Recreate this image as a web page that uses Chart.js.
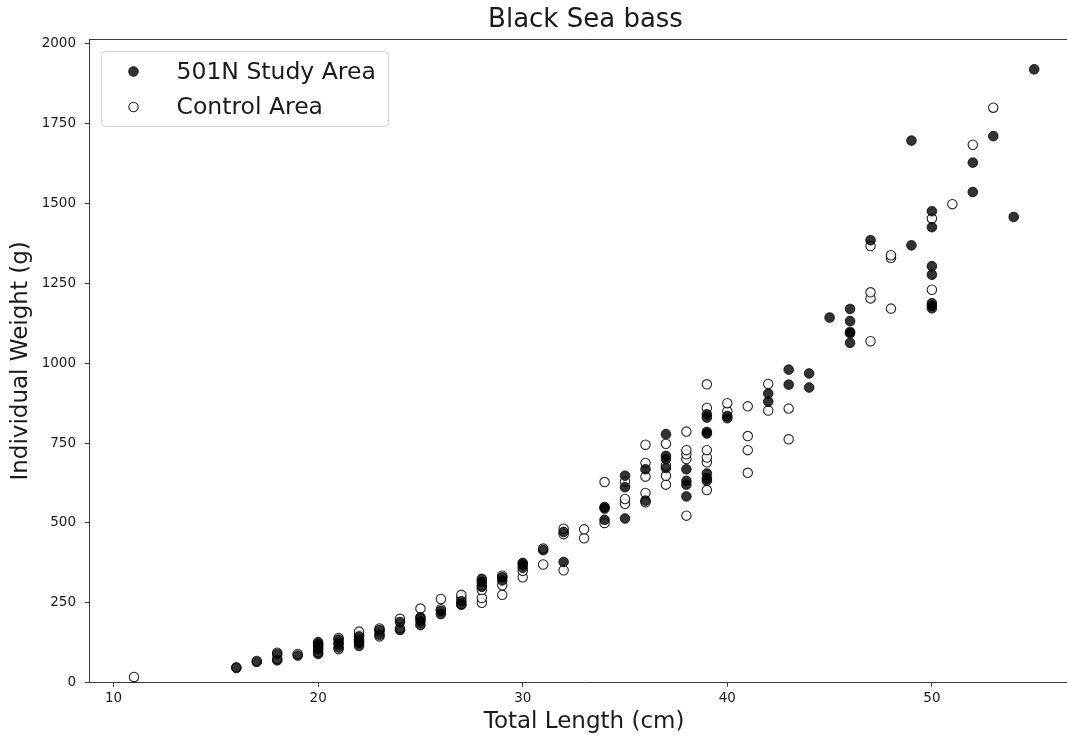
<!DOCTYPE html>
<html>
<head>
<meta charset="utf-8">
<script src="https://cdn.jsdelivr.net/npm/chart.js@4.4.0/dist/chart.umd.min.js"></script>
<style>
  html, body { margin: 0; padding: 0; background: #fff; overflow: hidden; }
  #wrap { width: 1085px; height: 738px; }
</style>
</head>
<body>
<div id="wrap"><canvas id="chart" width="1085" height="738"></canvas></div>
<script>
// Black Sea bass length/weight samples
const studyLength = [
  16, 17, 18, 18, 19, 20, 20, 20, 20, 21, 21, 21, 22, 22, 22, 22, 23, 23,
  24, 24, 25, 25, 25, 26, 26, 27, 27, 28, 28, 28, 29, 29, 30, 30, 30, 31,
  32, 32, 34, 34, 34, 35, 35, 35, 36, 36, 37, 37, 37, 37, 38, 38, 38, 38,
  39, 39, 39, 39, 39, 39, 39, 40, 40, 42, 42, 43, 43, 44, 44, 45,
  46, 46, 46, 46, 46, 47, 49, 49, 50, 50, 50, 50, 50, 50, 50, 52, 52, 53, 54, 55
];
const studyWeight = [
  46, 65, 70, 90, 85, 90, 105, 118, 127, 110, 125, 135, 115, 125, 135, 145, 150, 165,
  165, 190, 180, 192, 205, 215, 225, 245, 255, 300, 315, 325, 320, 330, 360, 370, 375, 415,
  378, 472, 510, 545, 550, 514, 612, 648, 570, 668, 672, 700, 710, 778, 583, 620, 632, 668,
  632, 640, 655, 780, 785, 830, 840, 828, 835, 880, 905, 933, 980, 924, 968, 1143,
  1064, 1094, 1098, 1132, 1170, 1385, 1369, 1697, 1172, 1180, 1188, 1277, 1304, 1426, 1476, 1536, 1628, 1711, 1458, 1920
];
const controlLength = [
  11, 16, 17, 18, 18, 19, 20, 20, 20, 21, 21, 21, 22, 22, 22, 23, 23, 23,
  24, 24, 25, 25, 26, 26, 27, 27, 27, 28, 28, 28, 28, 29, 29, 29, 30, 30,
  31, 31, 32, 32, 32, 33, 33, 34, 34, 35, 35, 35, 36, 36, 36, 36, 36,
  37, 37, 37, 37, 38, 38, 38, 38, 38, 39, 39, 39, 39, 39, 39, 40, 40,
  41, 41, 41, 41, 42, 42, 43, 43, 47, 47, 47, 47, 48, 48, 48, 50, 50, 51, 52, 53
];
const controlWeight = [
  18, 48, 68, 75, 94, 90, 95, 110, 120, 105, 120, 140, 130, 150, 160, 145, 160, 170,
  170, 200, 200, 232, 230, 262, 245, 265, 275, 250, 265, 290, 305, 275, 305, 335, 330, 350,
  370, 420, 352, 465, 482, 452, 480, 500, 628, 560, 575, 630, 565, 594, 645, 688, 745,
  620, 648, 680, 748, 523, 700, 715, 728, 786, 603, 690, 705, 728, 860, 934, 850, 875,
  657, 728, 772, 865, 852, 935, 762, 858, 1069, 1203, 1222, 1367, 1171, 1330, 1338, 1230, 1453, 1498, 1684, 1800
];
const seriesNames = ['501N Study Area', 'Control Area'];
const chartTitle = 'Black Sea bass';
const xTickValues = [10, 20, 30, 40, 50];
const yTickValues = [0, 250, 500, 750, 1000, 1250, 1500, 1750, 2000];

const toPoints = (xs, ys) => xs.map((x, k) => ({ x, y: ys[k] }));
const FONT = "'DejaVu Sans', 'Liberation Sans', sans-serif";
const INK = '#1a1a1a';
const SPINE = '#3a3a3a';

// title over the plot, top spine and the legend box inside the axes
const frameAndLegend = {
  id: 'frameAndLegend',
  afterDatasetsDraw(chart) {
    const { ctx, chartArea } = chart;
    ctx.save();
    ctx.fillStyle = INK;
    ctx.font = `26px ${FONT}`;
    ctx.textAlign = 'center';
    ctx.textBaseline = 'middle';
    ctx.fillText(chartTitle, 585.5, 20);

    ctx.strokeStyle = SPINE;
    ctx.lineWidth = 1;
    ctx.beginPath();
    ctx.moveTo(chartArea.left, chartArea.top + 0.5);
    ctx.lineTo(chartArea.right, chartArea.top + 0.5);
    ctx.stroke();

    // legend frame
    const bx = 101.5, by = 51.5, bw = 287, bh = 75, r = 4;
    ctx.beginPath();
    ctx.moveTo(bx + r, by);
    ctx.arcTo(bx + bw, by, bx + bw, by + bh, r);
    ctx.arcTo(bx + bw, by + bh, bx, by + bh, r);
    ctx.arcTo(bx, by + bh, bx, by, r);
    ctx.arcTo(bx, by, bx + bw, by, r);
    ctx.closePath();
    ctx.fillStyle = 'rgba(255,255,255,0.8)';
    ctx.fill();
    ctx.strokeStyle = '#d0d0d0';
    ctx.stroke();

    const rows = [71.5, 107];
    chart.data.datasets.forEach((ds, k) => {
      ctx.beginPath();
      ctx.arc(133.5, rows[k], ds.pointRadius, 0, Math.PI * 2);
      ctx.fillStyle = ds.backgroundColor;
      ctx.fill();
      ctx.lineWidth = ds.borderWidth;
      ctx.strokeStyle = ds.borderColor;
      ctx.stroke();
      ctx.fillStyle = INK;
      ctx.font = `23.5px ${FONT}`;
      ctx.textBaseline = 'middle';
      ctx.textAlign = 'left';
      ctx.fillText(ds.label, 176.5, rows[k] + 1);
    });
    ctx.restore();
  }
};

new Chart(document.getElementById('chart'), {
  type: 'scatter',
  data: {
    datasets: [
      {
        label: seriesNames[0],
        data: toPoints(studyLength, studyWeight),
        backgroundColor: 'rgba(0,0,0,0.8)',
        borderColor: 'rgba(0,0,0,0.8)',
        borderWidth: 1,
        pointRadius: 4.8,
        pointHoverRadius: 4.8,
      },
      {
        label: seriesNames[1],
        data: toPoints(controlLength, controlWeight),
        backgroundColor: 'rgba(255,255,255,0.8)',
        borderColor: 'rgba(0,0,0,0.85)',
        borderWidth: 1.1,
        pointRadius: 4.7,
        pointHoverRadius: 4.7,
      },
    ],
  },
  options: {
    responsive: false,
    animation: false,
    devicePixelRatio: 1,
    layout: { padding: { left: 0, right: 4, top: 39, bottom: 0 } },
    plugins: {
      legend: { display: false },
      tooltip: { enabled: false },
      title: { display: false },
    },
    scales: {
      x: {
        type: 'linear',
        min: 8.8,
        max: 57.2,
        afterFit: (s) => { s.height = 55.3; },
        afterBuildTicks: (s) => { s.ticks = xTickValues.map(v => ({ value: v })); },
        grid: { drawOnChartArea: false, drawTicks: true, tickLength: 4, tickColor: SPINE },
        border: { color: SPINE, width: 1 },
        ticks: { color: INK, padding: 4, font: { family: FONT, size: 13.5 }, maxRotation: 0,
                 callback: (v) => String(v) },
        title: {
          display: true,
          text: 'Total Length (cm)',
          color: INK,
          font: { family: FONT, size: 23, lineHeight: 1.0 },
          padding: { top: 0, bottom: 4 },
        },
      },
      y: {
        type: 'linear',
        min: 0,
        max: 2015,
        afterFit: (s) => { s.width = 89; },
        afterBuildTicks: (s) => { s.ticks = yTickValues.map(v => ({ value: v })); },
        grid: { drawOnChartArea: false, drawTicks: true, tickLength: 4, tickColor: SPINE },
        border: { color: SPINE, width: 1 },
        ticks: { color: INK, padding: 9, font: { family: FONT, size: 13.5 },
                 callback: (v) => String(v) },
        title: {
          display: true,
          text: 'Individual Weight (g)',
          color: INK,
          font: { family: FONT, size: 23, lineHeight: 1.0 },
          padding: { top: 10, bottom: 0 },
        },
      },
    },
  },
  plugins: [frameAndLegend],
});
</script>
</body>
</html>
